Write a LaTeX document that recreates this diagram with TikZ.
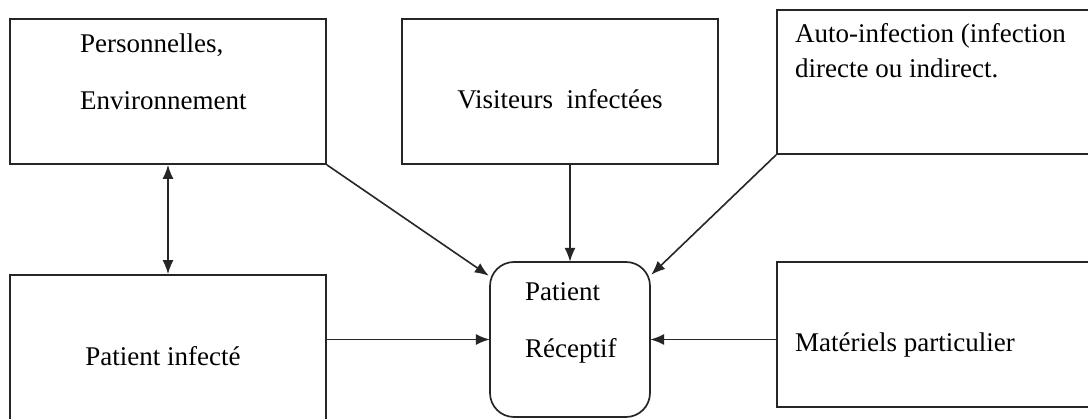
\documentclass[tikz,border=0pt]{standalone}
\usepackage{fontspec}
\setmainfont{Liberation Serif}
\usetikzlibrary{arrows.meta}
\begin{document}
\begin{tikzpicture}[x=1pt,y=-1pt,
  box/.style={draw=black!85,line width=1.7pt,rectangle,inner sep=0pt},
  rbox/.style={box,rounded corners=24pt},
  lbl/.style={inner sep=0pt,font=\fontsize{27}{31}\selectfont,text=black},
  con/.style={draw=black!85,line width=1.6pt,-{Latex[length=14pt,width=11pt]}},
  dcon/.style={draw=black!85,line width=1.6pt,{Latex[length=14pt,width=11pt]}-{Latex[length=14pt,width=11pt]}}]
\clip (0,0) rectangle (1088,419);
\fill[white] (0,0) rectangle (1088,419);
% boxes
\node[box,minimum width=316pt,minimum height=145pt] (TL) at (168,91.5) {};
\node[box,minimum width=316pt,minimum height=145pt] (TM) at (560,91.5) {};
\node[box,minimum width=330pt,minimum height=144pt] (TR) at (942,82) {};
\node[box,minimum width=316pt,minimum height=160pt] (BL) at (168,355) {};
\node[box,minimum width=330pt,minimum height=145pt] (BR) at (942,334.5) {};
\draw[rbox] (490,262) rectangle (650,417);
\node[inner sep=0pt,minimum width=160pt,minimum height=155pt] (C) at (570,339.5) {};
% texts
\node[lbl,anchor=base west] (t1) at (80,53) {Personnelles,};
\node[lbl,anchor=base west] (t2) at (80,110) {Environnement};
\node[lbl,anchor=base] (t3) at (560,109) {Visiteurs\ \ infectées};
\node[lbl,anchor=base west] (t4) at (795,43) {Auto-infection (infection};
\node[lbl,anchor=base west] (t5) at (795,78) {directe ou indirect.};
\node[lbl,anchor=base] (t6) at (163,366) {Patient infecté};
\node[lbl,anchor=base west] (t7) at (525,301) {Patient};
\node[lbl,anchor=base west] (t8) at (525,358) {Réceptif};
\node[lbl,anchor=base west] (t9) at (795,352) {Matériels particulier};
% connectors
\draw[dcon] (TL.south) -- (BL.north);
\draw[con] (TL.south east) -- ([shift={(-1,14)}]C.north west);
\draw[con] (C.north |- TM.south) -- (C.north);
\draw[con] (TR.south west) -- ([shift={(1,13)}]C.north east);
\draw[con] (C.west -| BL.east) -- (C.west);
\draw[con] (C.east -| BR.west) -- (C.east);
\end{tikzpicture}
\end{document}
